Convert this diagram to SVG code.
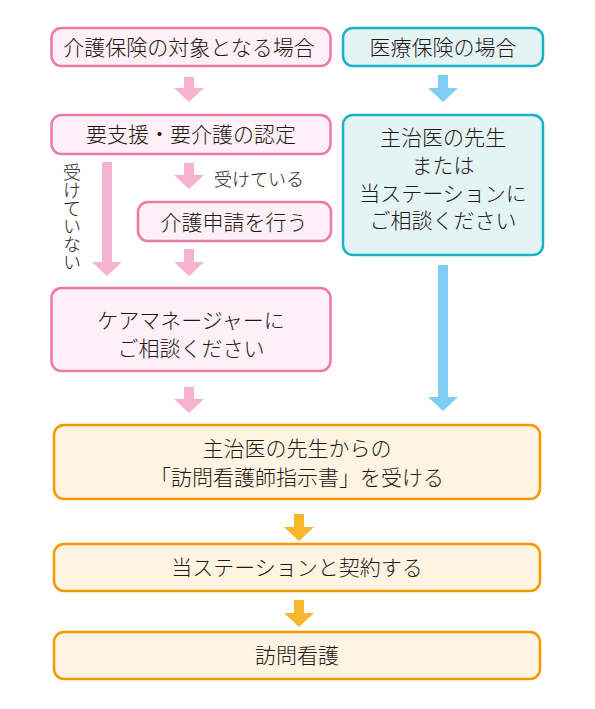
<svg xmlns="http://www.w3.org/2000/svg" width="595" height="709" viewBox="0 0 595 709">
<style>
text{font-family:"Noto Sans CJK JP","Noto Sans CJK SC",sans-serif;fill:#231815;text-anchor:middle;font-weight:300}
.t{font-size:21px}
.s{font-size:18px}
.pink{fill:#fdf0f6;stroke:#ec7aa6;stroke-width:2.5}
.teal{fill:#e4f3f4;stroke:#1ab3c4;stroke-width:2.5}
.orange{fill:#fff4e2;stroke:#f39800;stroke-width:2.5}
.ap{fill:#f5b3cf}
.ab{fill:#7ecef4}
.ao{fill:#f8b62d}
</style>
<rect width="595" height="709" fill="#ffffff"/>
<g id="connectors">
<polygon class="ap" points="184,77 194,77 194,88 204,88 189,102 174,88 184,88"/>
<polygon class="ap" points="184,163 194,163 194,175 204,175 189,189 174,175 184,175"/>
<polygon class="ap" points="102,162 112,162 112,262 122,262 107,276 92,262 102,262"/>
<polygon class="ap" points="184,249 194,249 194,262 204,262 189,276 174,262 184,262"/>
<polygon class="ap" points="184,387 194,387 194,399 204,399 189,413 174,399 184,399"/>
<polygon class="ab" points="438,75 448,75 448,88 458,88 443,102 428,88 438,88"/>
<polygon class="ab" points="438,265 448,265 448,397 458,397 443,411 428,397 438,397"/>
<polygon class="ao" points="294,514 304,514 304,527 314,527 299,541 284,527 294,527"/>
<polygon class="ao" points="294,600 304,600 304,613 314,613 299,627 284,613 294,613"/>
<text class="s" x="259" y="186">受けている</text>
<text class="s" x="72" y="163" writing-mode="tb" style="text-anchor:start">受けていない</text>
</g>
<g id="n1"><rect class="pink" x="51.5" y="28" width="279" height="38" rx="10"/><text class="t" x="189" y="55">介護保険の対象となる場合</text></g>
<g id="n2"><rect class="teal" x="343" y="28" width="200" height="38" rx="10"/><text class="t" x="443" y="55">医療保険の場合</text></g>
<g id="n3"><rect class="pink" x="51.5" y="115" width="279" height="39" rx="10"/><text class="t" x="191" y="142">要支援・要介護の認定</text></g>
<g id="n4"><rect class="teal" x="343" y="115" width="200" height="140" rx="10"/>
<text class="t" x="443" y="145">主治医の先生</text>
<text class="t" x="443" y="173">または</text>
<text class="t" x="443" y="201">当ステーションに</text>
<text class="t" x="443" y="228">ご相談ください</text></g>
<g id="n5"><rect class="pink" x="138" y="202" width="193" height="39" rx="10"/><text class="t" x="234" y="230">介護申請を行う</text></g>
<g id="n6"><rect class="pink" x="51.5" y="288" width="279" height="83" rx="10"/>
<text class="t" x="191" y="328">ケアマネージャーに</text>
<text class="t" x="191" y="356">ご相談ください</text></g>
<g id="n7"><rect class="orange" x="54" y="425" width="486" height="74" rx="10"/>
<text class="t" x="297" y="456">主治医の先生からの</text>
<text class="t" x="297" y="485">「訪問看護師指示書」を受ける</text></g>
<g id="n8"><rect class="orange" x="54" y="544" width="486" height="47" rx="10"/><text class="t" x="297" y="575">当ステーションと契約する</text></g>
<g id="n9"><rect class="orange" x="54" y="632" width="486" height="47" rx="10"/><text class="t" x="297" y="663">訪問看護</text></g>
</svg>
